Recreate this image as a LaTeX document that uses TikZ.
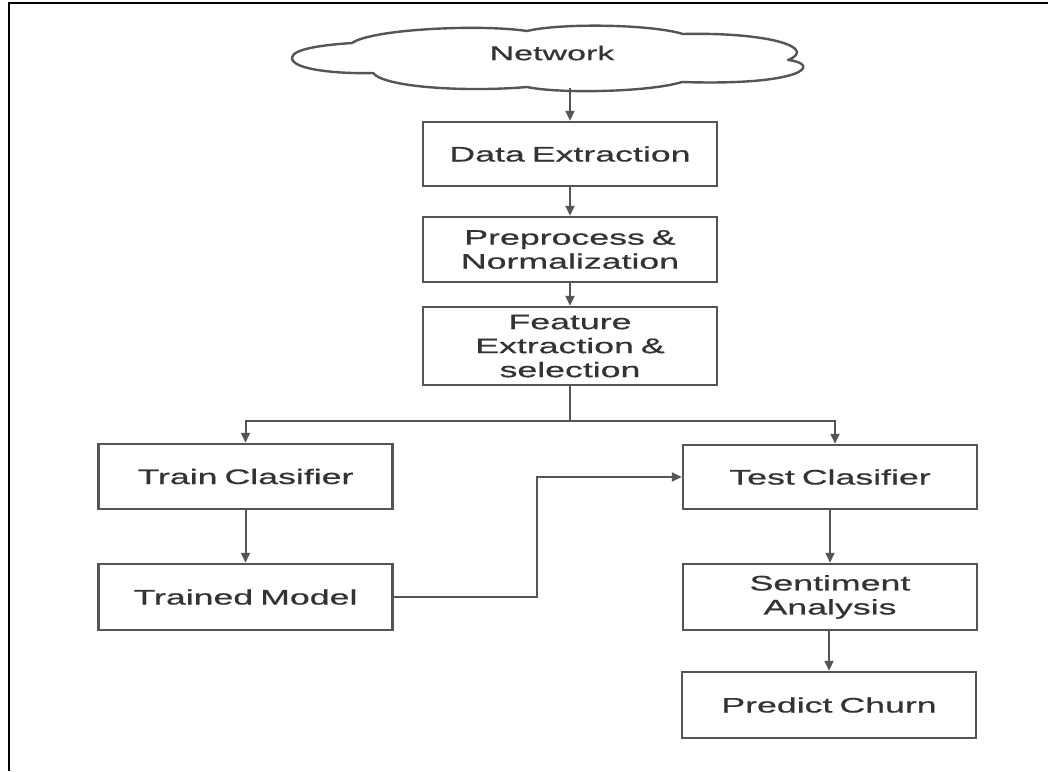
\documentclass[tikz,border=0pt]{standalone}
\usepackage{fontspec}
\setmainfont[FakeStretch=1.7,FakeBold=0.6]{Liberation Sans}
\usetikzlibrary{arrows.meta}
\definecolor{boxline}{HTML}{555555}
\definecolor{txt}{HTML}{333333}
\begin{document}
\begin{tikzpicture}[x=1pt,y=-1pt,
  box/.style={draw=boxline,line width=2.5pt,minimum width=294pt,text width=284pt,align=center,
    font=\fontsize{21}{24}\selectfont,text=txt,inner sep=0pt},
  link/.style={draw=boxline,line width=2pt,-{Triangle[length=10pt,width=9pt]}},
  plain/.style={draw=boxline,line width=2pt},
  cloudline/.style={draw=boxline,line width=2.4pt,fill=white,line join=round}]
\useasboundingbox (0,0) rectangle (1048,771);
\fill[white] (0,0) rectangle (1048,771);
\draw[line width=2.8pt] (9,771) -- (9,3) -- (1048,3);
% cloud
\draw[cloudline] (292,58) .. controls (292,49) and (322,45) .. (352,43)
  .. controls (372,29) and (480,24) .. (527,31)
  .. controls (560,23) and (650,24) .. (683,34)
  .. controls (770,32) and (818,48) .. (788,60)
  .. controls (822,64) and (805,86) .. (682,82)
  .. controls (650,92) and (560,94) .. (527,87)
  .. controls (470,92) and (385,88) .. (373,73)
  .. controls (340,74) and (292,70) .. (292,58) -- cycle;
\node[font=\fontsize{20}{24}\selectfont,text=txt] (net) at (552,53) {Network};
\coordinate (cloudb) at (570,88);
% boxes
\node[box,minimum height=64pt] (de) at (570,154) {Data Extraction};
\node[box,minimum height=65pt] (pn) at (570,249.5) {Preprocess \&\\Normalization};
\node[box,minimum height=78pt] (fe) at (570,346) {Feature\\Extraction \&\\selection};
\node[box,minimum height=65pt] (tc) at (245.5,476.5) {Train Clasifier};
\node[box,minimum height=66pt] (tm) at (245.5,597) {Trained Model};
\node[box,minimum height=64pt] (ts) at (830,477) {Test Clasifier};
\node[box,minimum height=66pt] (sa) at (830,597) {Sentiment\\Analysis};
\node[box,minimum height=66pt] (pc) at (829,705) {Predict Churn};
% connectors
\draw[link] (cloudb) -- (de.north);
\draw[link] (de) -- (pn);
\draw[link] (pn) -- (fe);
\coordinate (split) at (570,421);
\draw[plain] (fe.south) -- (split);
\draw[link] (split) -| (tc.north);
\draw[link] (split) -| ([xshift=5pt]ts.north);
\draw[link] (tc) -- (tm);
\coordinate (bend) at (537,0);
\draw[link] (tm.east) -- (tm.east -| bend) -- (bend |- ts.west) -- (ts.west);
\draw[link] (ts) -- (sa);
\draw[link] (sa.south -| pc.north) -- (pc.north);
\end{tikzpicture}
\end{document}
